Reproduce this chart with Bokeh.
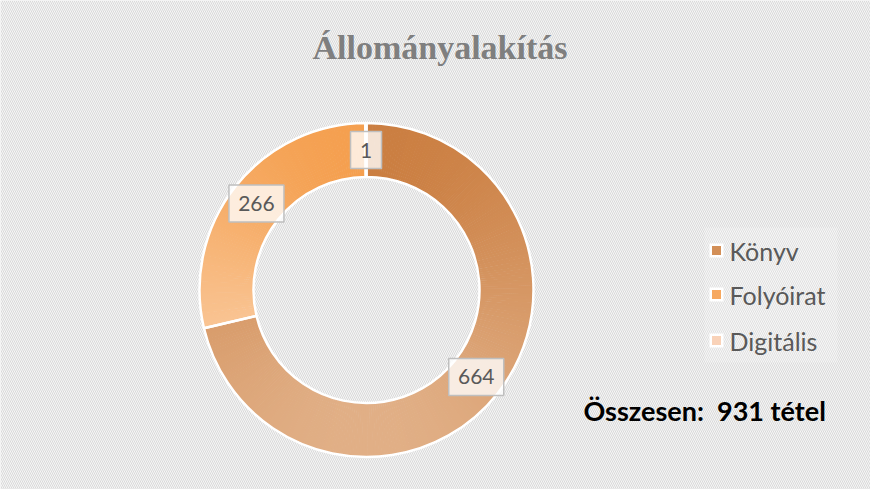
import math
from bokeh.plotting import figure
from bokeh.models import Range1d, ColumnDataSource
from bokeh.core.properties import value
from bokeh.embed import file_html
from bokeh.resources import INLINE

# ---------------- data ----------------
title_text = "Állományalakítás"
categories = ["Könyv", "Folyóirat", "Digitális"]
values = [664, 266, 1]
total_label = "Összesen:\u00a0 931 tétel"

# ---------------- style ----------------
top_colors = ["#C97A3B", "#F49A45", "#F8D3B8"]
bottom_colors = ["#E3B48D", "#F9C595", "#FBE3D2"]
legend_colors = ["#D38F57", "#F6A860", "#F9D2B8"]

W, H = 870, 489
p = figure(width=W, height=H, output_backend="svg", toolbar_location=None,
           x_range=Range1d(0, W), y_range=Range1d(0, H),
           x_axis_location=None, y_axis_location=None, min_border=0)
p.grid.visible = False
p.outline_line_color = None
p.background_fill_color = "#F4F4F4"
p.border_fill_color = "white"

# hatched chart-area background
p.quad(left=[0], right=[W], bottom=[0], top=[H], fill_color="#F6F6F6", line_color=None,
       hatch_pattern="left_diagonal_line", hatch_color="#D9D9D9", hatch_scale=4, hatch_weight=1)


def hex2rgb(h):
    h = h.lstrip("#")
    return tuple(int(h[i:i + 2], 16) for i in (0, 2, 4))


def mix(c1, c2, t):
    a, b = hex2rgb(c1), hex2rgb(c2)
    t = min(max(t, 0.0), 1.0)
    return "#%02x%02x%02x" % tuple(int(round(a[i] + (b[i] - a[i]) * t)) for i in range(3))


cx, cy = 366, 199.5
R_out, R_in = 167, 113
R_mid = (R_out + R_in) / 2
total = sum(values)

sub = dict(start=[], end=[], color=[])
outl = dict(start=[], end=[])
lab = dict(x=[], y=[], text=[], w=[])
cum = 0
for i, v in enumerate(values):
    a0 = cum / total * 2 * math.pi
    a1 = (cum + v) / total * 2 * math.pi
    cum += v
    samples = [a0 + (a1 - a0) * k / 200 for k in range(201)]
    ys = [cy + r * math.cos(a) for a in samples for r in (R_in, R_out)]
    ytop, ybot = max(ys), min(ys)
    span = max(ytop - ybot, 1e-6)
    n = max(1, int(math.degrees(a1 - a0)))
    for k in range(n):
        s = a0 + (a1 - a0) * k / n
        e = a0 + (a1 - a0) * (k + 1) / n
        m = (s + e) / 2
        y = cy + R_mid * math.cos(m)
        t = (ytop - y) / span
        sub["color"].append(mix(top_colors[i], bottom_colors[i], t))
        sub["start"].append(math.pi / 2 - min(e + 0.004, a1))
        sub["end"].append(math.pi / 2 - s)
    outl["start"].append(math.pi / 2 - a1)
    outl["end"].append(math.pi / 2 - a0)
    am = (a0 + a1) / 2
    lab["x"].append(cx + R_mid * math.sin(am))
    lab["y"].append(cy + R_mid * math.cos(am))
    lab["text"].append(str(v))
    lab["w"].append(19 + 12 * len(str(v)))

p.annular_wedge(x=cx, y=cy, inner_radius=R_in, outer_radius=R_out,
                start_angle="start", end_angle="end", fill_color="color",
                line_color=None, source=ColumnDataSource(sub))
p.annular_wedge(x=cx, y=cy, inner_radius=R_in, outer_radius=R_out,
                start_angle="start", end_angle="end", fill_alpha=0,
                line_color="white", line_width=2.5, source=ColumnDataSource(outl))

# data labels
lsrc = ColumnDataSource(lab)
p.rect(x="x", y="y", width="w", height=37, width_units="screen", height_units="screen",
       fill_color="white", fill_alpha=0.78, line_color="#BFBFBF", line_width=1.5, source=lsrc)
p.text(x="x", y="y", text="text", text_align="center", text_baseline="middle",
       text_font=value("Lato"), text_font_size="21px", text_color="#595959", source=lsrc)

# title
p.text(x=[439.5], y=[442], text=[title_text], text_align="center", text_baseline="alphabetic",
       text_font=value("Liberation Serif"), text_font_style="bold", text_font_size="34px",
       text_color="#7F7F7F")

# legend (manual)
p.quad(left=[704], right=[837], bottom=[127], top=[262], fill_color="white", fill_alpha=0.18,
       line_color=None)
leg_y = [239, 195, 149]
p.scatter(x=[716] * 3, y=leg_y, marker="square", size=14, fill_color="white", line_color=None)
p.scatter(x=[716] * 3, y=leg_y, marker="square", size=9, fill_color=legend_colors, line_color=None)
p.text(x=[729] * 3, y=leg_y, text=categories, text_align="left", text_baseline="middle",
       text_font=value("Lato"), text_font_size="25px", text_color="#595959")

# total
p.text(x=[583], y=[79], text=[total_label], text_align="left", text_baseline="alphabetic",
       text_font=value("Lato"), text_font_style="bold", text_font_size="27px", text_color="black")

open("out.html", "w").write(file_html(p, INLINE))
